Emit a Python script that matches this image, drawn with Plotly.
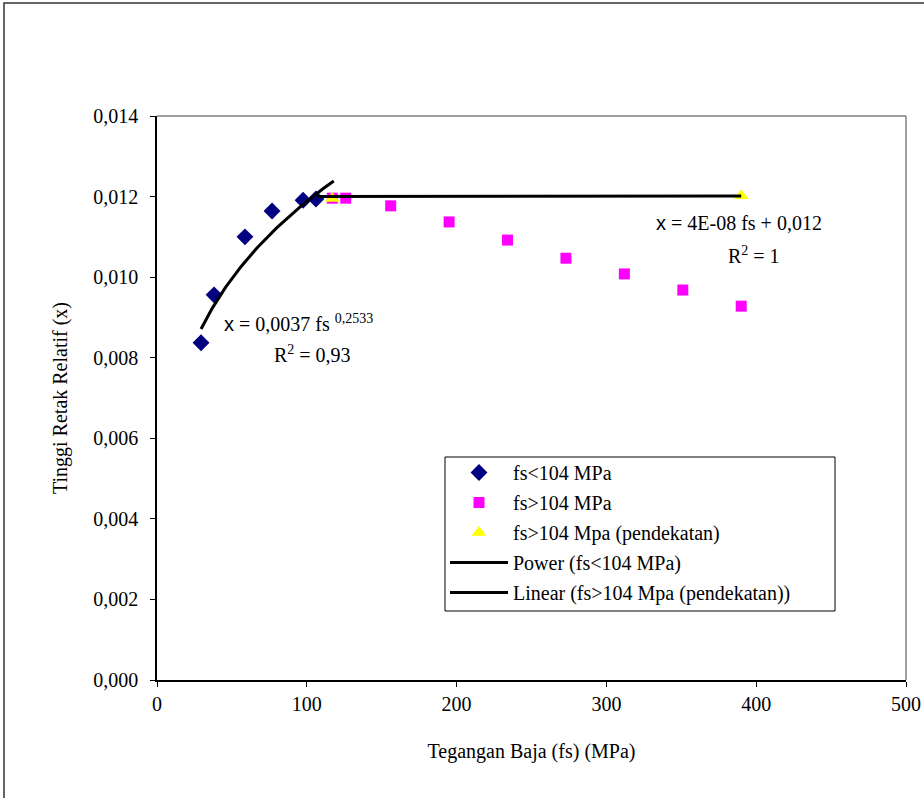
import numpy as np
import plotly.graph_objects as go

# Data
fs_low = [29.4, 38.1, 58.7, 76.8, 97.5, 106.1]
x_low = [0.00837, 0.00956, 0.01100, 0.01164, 0.01191, 0.01194]

fs_high = [117, 126, 156, 195, 234, 273, 312, 351, 390]
x_high = [0.01196, 0.01196, 0.01177, 0.01137, 0.01092, 0.01047, 0.01008, 0.00968, 0.00928]

fs_approx = [117, 390]
x_approx = [0.01195, 0.01202]

# Trendline coefficients (from the chart's equations)
power_a, power_b = 0.0037, 0.2533
lin_m, lin_c = 4e-8, 0.012
power_range = [29.4, 118.0]
linear_range = [107.0, 390.0]

x_ticks = [0, 100, 200, 300, 400, 500]
y_ticks = [0.000, 0.002, 0.004, 0.006, 0.008, 0.010, 0.012, 0.014]

serif = "Liberation Serif, Times New Roman, serif"
FS = 20

fs_pow = np.linspace(power_range[0], power_range[1], 80)
x_pow = power_a * fs_pow ** power_b
fs_lin = np.array(linear_range)
x_lin = lin_m * fs_lin + lin_c

fig = go.Figure()
fig.add_trace(go.Scatter(x=fs_low, y=x_low, mode="markers", name="fs<104 MPa", legendgroup="a",
                         marker=dict(symbol="diamond", color="#000080", size=13)))
fig.add_trace(go.Scatter(x=fs_high, y=x_high, mode="markers", name="fs>104 MPa", legendgroup="b",
                         marker=dict(symbol="square", color="#FF00FF", size=11)))
fig.add_trace(go.Scatter(x=fs_approx, y=x_approx, mode="markers", name="fs>104 Mpa (pendekatan)",
                         legendgroup="c",
                         marker=dict(symbol="triangle-up", color="#FFFF00", size=13)))
fig.add_trace(go.Scatter(x=fs_pow, y=x_pow, mode="lines", name="Power (fs<104 MPa)", legendgroup="d",
                         line=dict(color="black", width=3)))
fig.add_trace(go.Scatter(x=fs_lin, y=x_lin, mode="lines", name="Linear (fs>104 Mpa (pendekatan))",
                         legendgroup="e",
                         line=dict(color="black", width=3)))

L, R, T, B = 157, 18, 116, 118
W, H = 924, 798
pw, ph = W - L - R, H - T - B

def px(xp):
    return (xp - L) / pw

def py(yp):
    return (H - B - yp) / ph

fig.update_layout(
    width=W, height=H, autosize=False,
    margin=dict(l=L, r=R, t=T, b=B, autoexpand=False),
    paper_bgcolor="white", plot_bgcolor="white",
    separators=",.",
    font=dict(family=serif, size=FS, color="black"),
    showlegend=True,
    legend=dict(x=px(445), y=py(453), xanchor="left", yanchor="top",
                borderwidth=0, bgcolor="rgba(0,0,0,0)",
                font=dict(family=serif, size=FS), itemwidth=58,
                tracegroupgap=1),
    xaxis=dict(range=[0, 500], tickvals=x_ticks, showgrid=False, zeroline=False,
               showline=True, linecolor="black", linewidth=1.5,
               ticks="outside", ticklen=5, tickcolor="black",
               tickfont=dict(family=serif, size=FS), automargin=False,
               title=dict(text="Tegangan Baja (fs) (MPa)", font=dict(family=serif, size=FS), standoff=30),
               mirror=False),
    yaxis=dict(range=[0, 0.014], tickvals=y_ticks, tickformat=".3f", showgrid=False, zeroline=False,
               showline=True, linecolor="black", linewidth=1.5,
               ticks="outside", ticklen=5, tickcolor="black", ticklabelstandoff=8,
               tickfont=dict(family=serif, size=FS), automargin=False,
               title=dict(text="Tinggi Retak Relatif (x)", font=dict(family=serif, size=FS), standoff=20)),
    shapes=[
        dict(type="line", xref="paper", yref="paper", x0=0, x1=1, y0=1, y1=1,
             line=dict(color="#808080", width=1.5)),
        dict(type="line", xref="paper", yref="paper", x0=1, x1=1, y0=0, y1=1,
             line=dict(color="#808080", width=1.5)),
        dict(type="rect", xref="paper", yref="paper", x0=px(4), x1=px(940), y0=py(806), y1=py(3),
             line=dict(color="#333333", width=1.5)),
        dict(type="rect", xref="paper", yref="paper", x0=px(445), x1=px(835), y0=py(611), y1=py(457),
             line=dict(color="black", width=1), fillcolor="white", layer="above"),
    ],
    annotations=[
        dict(xref="paper", yref="paper", x=px(222), y=py(323), xanchor="left", yanchor="middle",
             showarrow=False,
             text="<span style='font-family:Liberation Sans'>x</span> = 0,0037 fs <sup>0,2533</sup>",
             font=dict(family=serif, size=FS)),
        dict(xref="paper", yref="paper", x=px(312), y=py(354), xanchor="center", yanchor="middle",
             showarrow=False, text="R<sup>2</sup> = 0,93", font=dict(family=serif, size=FS)),
        dict(xref="paper", yref="paper", x=px(654), y=py(223), xanchor="left", yanchor="middle",
             showarrow=False,
             text="<span style='font-family:Liberation Sans'>x</span> = 4E-08 fs + 0,012",
             font=dict(family=serif, size=FS)),
        dict(xref="paper", yref="paper", x=px(754), y=py(255), xanchor="center", yanchor="middle",
             showarrow=False, text="R<sup>2</sup> = 1", font=dict(family=serif, size=FS)),
    ],
)

fig.write_html("out.html", config={"displayModeBar": False},
               post_script="document.body.style.margin='0';document.body.style.overflow='hidden';")
